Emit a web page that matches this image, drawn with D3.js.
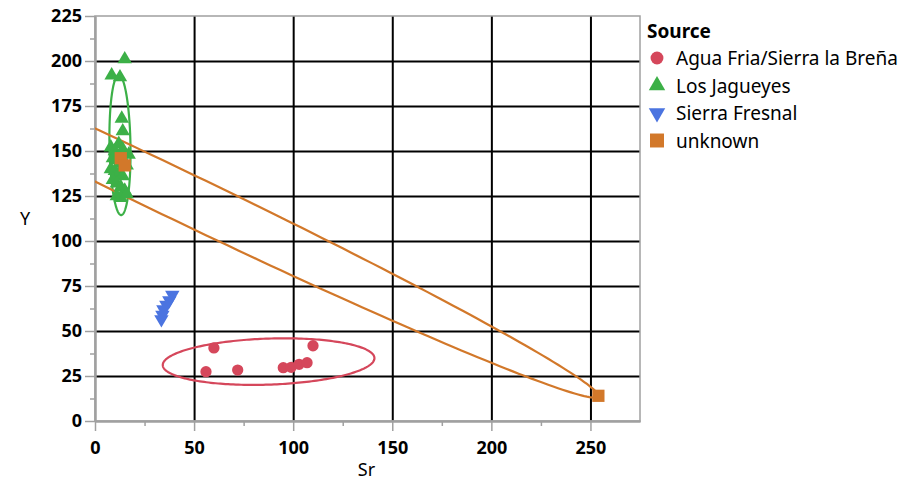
<!DOCTYPE html>
<html>
<head>
<meta charset="utf-8">
<script src="https://cdn.jsdelivr.net/npm/d3@7"></script>
<style>
body { margin: 0; background: #fff; }
text { font-family: "Noto Sans", sans-serif; fill: #000; }
</style>
</head>
<body>
<svg id="chart" width="919" height="484"></svg>
<script>
// data
const sources = ["Agua Fria/Sierra la Breña", "Los Jagueyes", "Sierra Fresnal", "unknown"];

const aguaSr = [60, 56, 72, 95, 99, 103, 107, 110];
const aguaY  = [40.6, 27.4, 28.3, 29.6, 29.8, 31.5, 32.4, 41.8];

const jagSr = [15, 8.4, 12.6, 13.5, 14, 8, 10, 12, 14, 17, 9, 11, 13, 16, 8, 10, 12, 14, 9, 11, 13, 15, 11, 13, 16];
const jagY  = [201, 192, 191, 168, 161, 152, 150, 154, 151, 148, 146, 145, 143, 142, 140, 139, 137, 136, 134, 132, 130, 128, 125, 124, 126];

const fresSr = [39, 37.5, 36, 34.5, 34, 33.5];
const fresY  = [70, 67, 64.5, 62, 59, 56.5];

const unkSr = [13, 15, 254];
const unkY  = [146, 142, 14];

// density ellipses: center, conjugate semi-diameters (data units)
const ellCenter = [[87.6, 33], [12.6, 153.3], [], [45, 124.1]];
const ellA      = [[53.4, 1.9], [-0.6, 38.9], [], [209, -110.1]];
const ellB      = [[0, 12.8], [5.3, 0], [], [0, 15.1]];

const xTicks = [0, 50, 100, 150, 200, 250];
const yTicks = [0, 25, 50, 75, 100, 125, 150, 175, 200, 225];

const colors = ["#d5475b", "#3cb047", "#4b74e0", "#d2782a"];
const shapes = [d3.symbolCircle, d3.symbolTriangle, d3.symbolTriangle, d3.symbolSquare];
const sizes  = [100, 90, 90, 150];
const rotate = [0, 0, 180, 0];

// size and boundary
const svg = d3.select("#chart");
const width = +svg.attr("width");
const height = +svg.attr("height");
const margin = { top: 16, right: 279, bottom: 63, left: 95 };
const innerWidth = width - margin.left - margin.right;
const innerHeight = height - margin.top - margin.bottom;

const g = svg.append("g")
    .attr("transform", `translate(${margin.left},${margin.top})`);

const x = d3.scaleLinear().domain([0, 275]).range([0, innerWidth]);
const y = d3.scaleLinear().domain([0, 225]).range([innerHeight, 0]);

svg.append("defs").append("clipPath").attr("id", "plotclip")
  .append("rect").attr("width", innerWidth).attr("height", innerHeight);

// grid
g.append("g")
    .attr("transform", `translate(0,${innerHeight})`)
    .call(d3.axisBottom(x).tickValues(xTicks.slice(1)).tickSize(-innerHeight))
    .call(s => s.select(".domain").remove())
    .call(s => s.selectAll("text").remove())
    .selectAll("line").attr("stroke", "#000").attr("stroke-width", 2);
g.append("g")
    .call(d3.axisLeft(y).tickValues(yTicks.slice(1, -1)).tickSize(-innerWidth))
    .call(s => s.select(".domain").remove())
    .call(s => s.selectAll("text").remove())
    .selectAll("line").attr("stroke", "#000").attr("stroke-width", 2);

// frame
g.append("rect")
    .attr("width", innerWidth).attr("height", innerHeight)
    .attr("fill", "none").attr("stroke", "#a0a0a0").attr("stroke-width", 1.5);

// axes
function styleAxis(s) {
    s.select(".domain").attr("stroke", "#a0a0a0").attr("stroke-width", 2);
    s.selectAll(".tick line").attr("stroke", "#a0a0a0").attr("stroke-width", 1.5);
    s.selectAll("text").attr("font-size", 18).attr("font-weight", "bold")
        .attr("font-family", "'Noto Sans', sans-serif").attr("fill", "#000");
}
g.append("g").attr("transform", `translate(0,${innerHeight})`)
    .call(d3.axisBottom(x).tickValues(xTicks).tickSize(10).tickPadding(10).tickSizeOuter(0))
    .call(styleAxis);
g.append("g").attr("transform", `translate(0,${innerHeight})`)
    .call(d3.axisBottom(x).tickValues(d3.range(25, 275, 50)).tickSize(5).tickSizeOuter(0))
    .call(s => s.selectAll("text").remove())
    .call(styleAxis);
g.append("g")
    .call(d3.axisLeft(y).tickValues(yTicks).tickSize(10).tickPadding(3).tickSizeOuter(0))
    .call(styleAxis);
g.append("g")
    .call(d3.axisLeft(y).tickValues(d3.range(12.5, 225, 25)).tickSize(5).tickSizeOuter(0))
    .call(s => s.selectAll("text").remove())
    .call(styleAxis);

svg.append("text").attr("x", margin.left + x(137)).attr("y", 476)
    .attr("text-anchor", "middle").attr("font-size", 18).text("Sr");
svg.append("text").attr("x", 25).attr("y", 225)
    .attr("text-anchor", "middle").attr("font-size", 18).text("Y");

// ellipses
const line = d3.line().x(d => x(d[0])).y(d => y(d[1])).curve(d3.curveLinearClosed);
const eg = g.append("g").attr("clip-path", "url(#plotclip)");
ellCenter.forEach((c, i) => {
    if (!c.length) return;
    const a = ellA[i], b = ellB[i];
    const pts = d3.range(0, 360, 1.5).map(deg => {
        const t = deg * Math.PI / 180;
        return [c[0] + a[0] * Math.cos(t) + b[0] * Math.sin(t),
                c[1] + a[1] * Math.cos(t) + b[1] * Math.sin(t)];
    });
    eg.append("path").attr("d", line(pts))
        .attr("fill", "none").attr("stroke", colors[i]).attr("stroke-width", 2.2);
});

// points
const groups = [[aguaSr, aguaY], [jagSr, jagY], [fresSr, fresY], [unkSr, unkY]];
groups.forEach(([xs, ys], i) => {
    g.append("g").selectAll("path")
        .data(xs.map((v, j) => [v, ys[j]]))
        .enter()
        .append("path")
        .attr("d", d3.symbol().type(shapes[i]).size(sizes[i]))
        .attr("transform", d => `translate(${x(d[0])},${y(d[1])}) rotate(${rotate[i]})`)
        .attr("fill", colors[i]);
});

// legend
const lg = svg.append("g").attr("transform", "translate(647,0)");
lg.append("text").attr("x", 0).attr("y", 38)
    .attr("font-size", 19).attr("font-weight", "bold").text("Source");
const items = lg.selectAll(".item").data(sources).enter().append("g")
    .attr("transform", (d, i) => `translate(0,${58 + i * 27.5})`);
items.append("path")
    .attr("d", (d, i) => d3.symbol().type(shapes[i]).size(sizes[i] * 1.3)())
    .attr("transform", (d, i) => `translate(10,0) rotate(${rotate[i]})`)
    .attr("fill", (d, i) => colors[i]);
items.append("text").attr("x", 29).attr("y", 7)
    .attr("font-size", 19).text(d => d);
</script>
</body>
</html>
